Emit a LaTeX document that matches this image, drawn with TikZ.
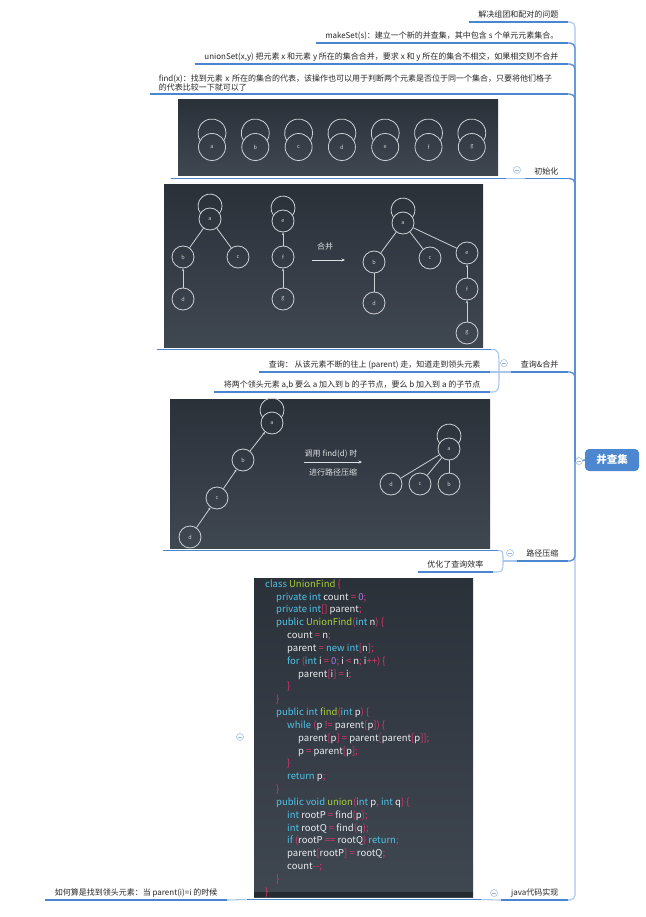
\documentclass[tikz,border=0pt]{standalone}
\usepackage{fontspec}
\setmainfont{Noto Sans CJK SC}
\usetikzlibrary{arrows.meta,positioning}
\definecolor{ulblue}{HTML}{4A86D0}
\definecolor{trunkc}{HTML}{5B90D8}
\definecolor{lightc}{HTML}{A9C6EC}
\definecolor{foldc}{HTML}{93B6E4}
\definecolor{rootc}{HTML}{4D87CF}
\definecolor{labc}{HTML}{262626}
\definecolor{imgtop}{HTML}{2B3139}
\definecolor{imgbot}{HTML}{3F4751}
\definecolor{codebot}{HTML}{262B31}
\definecolor{vxc}{HTML}{CDD1D5}
\definecolor{imgtxtc}{HTML}{DDE0E3}
\definecolor{ckw}{HTML}{4FC3E8}
\definecolor{cfn}{HTML}{A6CE39}
\definecolor{cpun}{HTML}{E5336E}
\definecolor{cnum}{HTML}{A97BF0}
\definecolor{cid}{HTML}{E8EBEE}
\newcommand{\lblfont}{\fontsize{8}{8.4}\selectfont}
\newcommand{\codefont}{\fontsize{9.5}{10}\selectfont}
\newcommand{\vxfont}{\fontsize{5.5}{6}\selectfont}
\newcommand{\rootfont}{\fontsize{10.5}{12}\selectfont\bfseries}
\newcommand{\ckw}[1]{\textcolor{ckw}{#1}}
\newcommand{\cfn}[1]{\textcolor{cfn}{#1}}
\newcommand{\cpun}[1]{\textcolor{cpun}{#1}}
\newcommand{\cnum}[1]{\textcolor{cnum}{#1}}
% loop over a tree node: node, node radius, loop radius, loop offset
\newcommand{\selfloop}[4]{%
  \pgfmathsetmacro{\slY}{(#4*#4+#2*#2-#3*#3)/(2*#4)}%
  \pgfmathsetmacro{\slX}{sqrt(#2*#2-\slY*\slY)}%
  \pgfmathsetmacro{\slA}{atan2(#4-\slY,\slX)}%
  \draw[tedge] (#1.center) ++(-\slX,-\slY) arc[start angle=180-\slA, end angle=360+\slA, radius=#3];}

\begin{document}
\begin{tikzpicture}[x=1pt, y=-1pt,
  topic/.style={inner xsep=9.5pt, inner ysep=2.8pt, text height=6.4pt, text depth=1.2pt,
                font=\lblfont, text=labc, anchor=south east},
  topicml/.style={inner xsep=9pt, inner ysep=2.8pt, font=\lblfont, text=labc,
                align=left, anchor=south east},
  imgbox/.style={top color=imgtop, bottom color=imgbot, inner sep=0pt,
                outer xsep=7.5pt, outer ysep=2.5pt},
  vx/.style={circle, draw=vxc, line width=0.8pt, minimum size=22pt, inner sep=0pt,
                font=\vxfont, text=vxc},
  tedge/.style={draw=vxc, line width=0.8pt},
  tarr/.style={tedge, -{Stealth[length=2.8pt, width=2.4pt]}},
  imgarr/.style={draw=imgtxtc, line width=0.8pt, -{Stealth[length=3.5pt, width=3pt]}},
  imgtxt/.style={font=\lblfont, text=imgtxtc, inner sep=0pt},
  codeln/.style={font=\codefont, text=cid, inner sep=0pt, anchor=base west},
  uline/.style={draw=ulblue, line width=1.6pt},
  conn/.style={draw=lightc, line width=1.1pt},
  branch/.style={draw=trunkc, line width=1.4pt, rounded corners=5pt},
  fold/.style={circle, draw=foldc, fill=white, line width=0.5pt, minimum size=7pt, inner sep=0pt,
    path picture={\draw[foldc, line width=0.6pt]
      ([xshift=-2pt]path picture bounding box.center) -- ([xshift=2pt]path picture bounding box.center);}},
  root/.style={fill=rootc, rounded corners=4pt, text=white, font=\rootfont,
                minimum width=54pt, minimum height=22pt, inner sep=0pt}
]
\path[fill=white, use as bounding box] (0,0) rectangle (645,917);

% picture topics
\node[imgbox, minimum width=320pt, minimum height=76pt] (img1) at (338,138) {};
\node[imgbox, minimum width=319pt, minimum height=162pt] (img2) at (323.5,266) {};
\node[imgbox, minimum width=320pt, minimum height=149pt] (img3) at (330,473.5) {};
\node[imgbox, minimum width=219pt, minimum height=319pt] (code) at (363.5,737.5) {};
\fill[codebot] (254,892) rectangle (473,897);

% init: every element is its own root
\foreach \v [count=\i] in {a,...,g}
  \node[vx, minimum size=27pt] (s\v) at ({212+43.3*(\i-1)},147) {\v};
\foreach \v in {a,...,g} {\selfloop{s\v}{13.5}{14}{14}}

% union
\node[vx] (la) at (210,219) {a};
\node[vx] (lb) at (183,257) {b};
\node[vx] (lc) at (238,257) {c};
\node[vx] (ld) at (183,299) {d};
\node[vx] (le) at (283,221) {e};
\node[vx] (lf) at (283,257) {f};
\node[vx] (lg) at (283,299) {g};
\node[vx] (ra) at (403,223) {a};
\node[vx] (rb) at (374,262) {b};
\node[vx] (rc) at (430,258) {c};
\node[vx] (rd) at (374,303) {d};
\node[vx] (re) at (467,253) {e};
\node[vx] (rf) at (467,289) {f};
\node[vx] (rg) at (467,333) {g};
\foreach \v in {la,le,ra} {\selfloop{\v}{11}{12}{13}}
\draw[tedge] (la) -- (lb);
\draw[tedge] (la) -- (lc);
\draw[tarr] (ld) -- (lb);
\draw[tarr] (lf) -- (le);
\draw[tarr] (lg) -- (lf);
\draw[tedge] (ra) -- (rb);
\draw[tedge] (ra) -- (rc);
\draw[tedge] (ra) -- (re);
\draw[tedge] (rd) -- (rb);
\draw[tarr] (rf) -- (re);
\draw[tarr] (rg) -- (rf);
\coordinate (hb1) at (312,260);
\coordinate (hb2) at (345,260);
\draw[imgarr] (hb1) -- (hb2);
\node[imgtxt] (hbl) at (325,246) {合并};

% path compression
\node[vx] (ta) at (272,423) {a};
\node[vx] (tb) at (243,460) {b};
\node[vx] (tc) at (217,498) {c};
\node[vx] (td) at (190,537) {d};
\node[vx] (ua) at (449,449) {a};
\node[vx] (ud) at (391,484) {d};
\node[vx] (uc) at (420,484) {c};
\node[vx] (ub) at (449,484) {b};
\foreach \v in {ta,ua} {\selfloop{\v}{11}{12}{13}}
\draw[tarr] (tb) -- (ta);
\draw[tarr] (tc) -- (tb);
\draw[tarr] (td) -- (tc);
\draw[tedge] (ua) -- (ud);
\draw[tedge] (ua) -- (uc);
\draw[tedge] (ua) -- (ub);
\coordinate (ys1) at (304,462);
\coordinate (ys2) at (362,462);
\draw[imgarr] (ys1) -- (ys2);
\node[imgtxt] (ysl1) at (331,454) {调用 find(d) 时};
\node[imgtxt] (ysl2) at (333,472) {进行路径压缩};

% java source
\foreach \lvl/\codetxt [count=\n] in {
  0/{\ckw{class} \cfn{UnionFind} \cpun{\{}},
  1/{\ckw{private} \ckw{int} count \cpun{=} \cnum{0}\cpun{;}},
  1/{\ckw{private} \ckw{int}\cpun{[]} parent\cpun{;}},
  1/{\ckw{public} \cfn{UnionFind}\cpun{(}\ckw{int} n\cpun{)} \cpun{\{}},
  2/{count \cpun{=} n\cpun{;}},
  2/{parent \cpun{=} \ckw{new} \ckw{int}\cpun{[}n\cpun{];}},
  2/{\ckw{for} \cpun{(}\ckw{int} i \cpun{=} \cnum{0}\cpun{;} i \cpun{<} n\cpun{;} i\cpun{++)} \cpun{\{}},
  3/{parent\cpun{[}i\cpun{]} \cpun{=} i\cpun{;}},
  2/{\cpun{\}}},
  1/{\cpun{\}}},
  1/{\ckw{public} \ckw{int} \cfn{find}\cpun{(}\ckw{int} p\cpun{)} \cpun{\{}},
  2/{\ckw{while} \cpun{(}p \cpun{!=} parent\cpun{[}p\cpun{])} \cpun{\{}},
  3/{parent\cpun{[}p\cpun{]} \cpun{=} parent\cpun{[}parent\cpun{[}p\cpun{]];}},
  3/{p \cpun{=} parent\cpun{[}p\cpun{];}},
  2/{\cpun{\}}},
  2/{\ckw{return} p\cpun{;}},
  1/{\cpun{\}}},
  1/{\ckw{public} \ckw{void} \cfn{union}\cpun{(}\ckw{int} p\cpun{,} \ckw{int} q\cpun{)} \cpun{\{}},
  2/{\ckw{int} rootP \cpun{=} find\cpun{(}p\cpun{);}},
  2/{\ckw{int} rootQ \cpun{=} find\cpun{(}q\cpun{);}},
  2/{\ckw{if} \cpun{(}rootP \cpun{==} rootQ\cpun{)} \ckw{return}\cpun{;}},
  2/{parent\cpun{[}rootP\cpun{]} \cpun{=} rootQ\cpun{;}},
  2/{count\cpun{-{}-;}},
  1/{\cpun{\}}},
  0/{\cpun{\}}}}
  \node[codeln] (cl\n) at ({265+11*\lvl},{587.3+12.83*(\n-1)}) {\codetxt};

% topics
\node[topic] (l1) at (568,22) {解决组团和配对的问题};
\node[topic] (l2) at (568,43) {makeSet(s)：建立一个新的并查集，其中包含 s 个单元元素集合。};
\node[topic] (l3) at (568,64) {unionSet(x,y) 把元素 x 和元素 y 所在的集合合并，要求 x 和 y 所在的集合不相交，如果相交则不合并};
\node[topicml, text width=400pt] (l4) at (568,94) {find(x)：找到元素 x 所在的集合的代表，该操作也可以用于判断两个元素是否位于同一个集合，只要将他们格子\\的代表比较一下就可以了};
\node[topic] (l5) at (568,178.5) {初始化};
\node[topic] (l6) at (568,372) {查询\&合并};
\node[topic] (l6a) at (490,372) {查询： 从该元素不断的往上 (parent) 走，知道走到领头元素};
\node[topic] (l6b) at (490,392) {将两个领头元素 a,b 要么 a 加入到 b 的子节点，要么 b 加入到 a 的子节点};
\node[topic] (l7) at (568,561) {路径压缩};
\node[topic] (l7a) at (493,572) {优化了查询效率};
\node[topic] (l8) at (568,900) {java代码实现};
\node[topic] (l8a) at (227,900) {如何算是找到领头元素：当 parent(i)=i 的时候};

% trunk and branches
\coordinate (tr) at (575,461);
\draw[branch, draw=lightc, line width=1.1pt] (tr) |- (l1.south east);
\draw[branch, draw=lightc, line width=1.1pt] (tr) |- (l8.south east);
\foreach \t in {l2,l3,l4,l5,l6,l7}
  \draw[branch] (tr) |- (\t.south east);

% sub-branches
\coordinate (bp6) at (499,372);
\coordinate (bp7) at (503,561);
\draw[conn] (img1.south east) -- (l5.south west);
\draw[conn] (l6.south west) -- (l6a.south east);
\draw[conn] (img2.south east) .. controls (bp6 |- img2.south east) .. (bp6);
\draw[conn] (l6b.south east) .. controls (bp6 |- l6b.south east) .. (bp6);
\draw[conn] (l7.south west) -- (bp7);
\draw[conn] (img3.south east) .. controls (bp7 |- img3.south east) .. (bp7);
\draw[conn] (l7a.south east) .. controls (bp7 |- l7a.south east) .. (bp7);
\draw[conn] (code.south east) -- (l8.south west);
\draw[conn] (l8a.south east) -- (code.south west);

\foreach \t in {l1,l2,l3,l4,l5,l6,l6a,l6b,l7,l7a,l8,l8a,img1,img2,img3,code}
  \draw[uline] (\t.south west) -- (\t.south east);

% collapse marks and root
\node[fold] (f5) at (517,170) {};
\node[fold] (f6) at (504,363) {};
\node[fold] (f7) at (510,553) {};
\node[fold] (f8) at (494,893) {};
\node[fold] (fc) at (240,737) {};
\node[root] (root) at (612,460) {并查集};
\node[fold] (ri) at (579,461) {};
\draw[branch] (tr) -- (ri);
\draw[branch] (ri) -- (root.west);
\end{tikzpicture}
\end{document}
